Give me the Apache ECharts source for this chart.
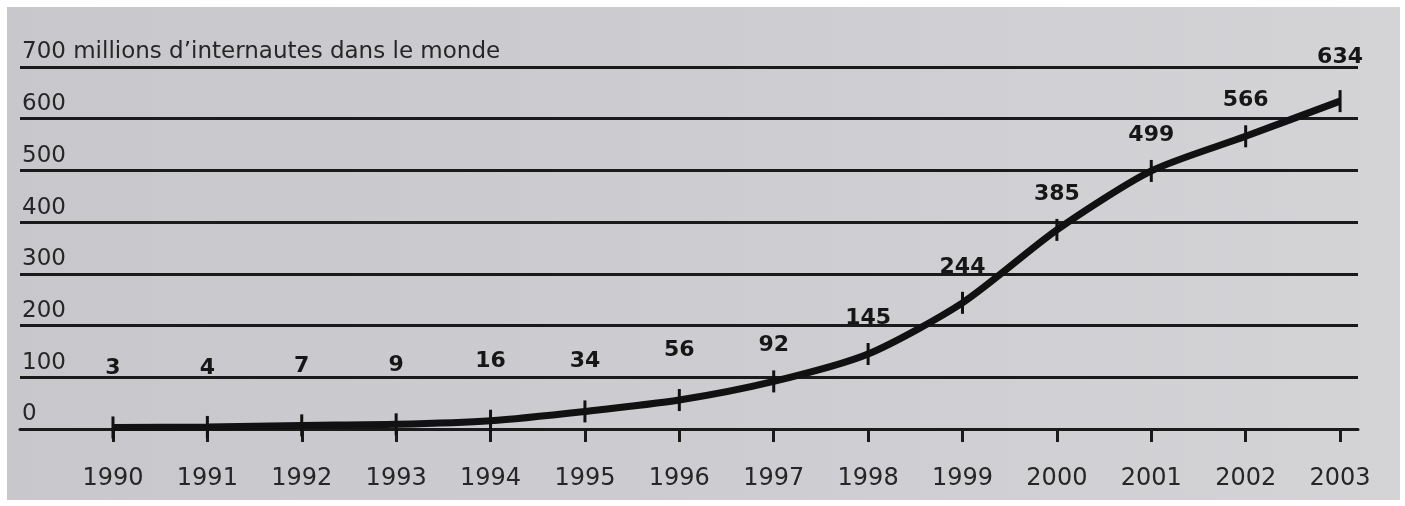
<!DOCTYPE html>
<html>
<head>
<meta charset="utf-8">
<script src="https://cdn.jsdelivr.net/npm/echarts@6/dist/echarts.min.js"></script>
<style>
  html, body { margin: 0; padding: 0; background: #ffffff; }
  #chart { width: 1405px; height: 506px; }
</style>
</head>
<body>
<div id="chart"></div>
<script>
// années et nombre d'internautes (millions)
const years = [1990, 1991, 1992, 1993, 1994, 1995, 1996, 1997, 1998, 1999, 2000, 2001, 2002, 2003];
const users = [3, 4, 7, 9, 16, 34, 56, 92, 145, 244, 385, 499, 566, 634];
const yTicks = [0, 100, 200, 300, 400, 500, 600, 700];
const topLabel = "700 millions d\u2019internautes dans le monde";

const chart = echarts.init(document.getElementById('chart'));

const ink = '#1a1a1a';
const textFont = 'DejaVu Sans';

// écart des étiquettes selon la hauteur du point
function labelGap(v) {
    if (v < 20) return 37;
    if (v < 60) return 28;
    if (v > 600) return 22;
    return 14;
}

const points = years.map((y, i) => ({
    value: [y, users[i]],
    label: { distance: labelGap(users[i]) }
}));

const option = {
    backgroundColor: '#ffffff',
    animation: false,
    graphic: [{
        type: 'rect',
        z: -10,
        shape: { x: 7, y: 7, width: 1393, height: 493 },
        style: {
            fill: new echarts.graphic.LinearGradient(0, 0, 1, 0, [
                { offset: 0, color: '#c8c8cc' },
                { offset: 0.5, color: '#cdcdd1' },
                { offset: 1, color: '#d4d4d7' }
            ])
        }
    }],
    grid: { left: 20, right: 47, top: 67, bottom: 77 },
    xAxis: {
        type: 'value',
        min: 1989.015,
        max: 2003.19,
        splitLine: { show: false },
        axisLine: { show: true, lineStyle: { color: ink, width: 3 } },
        axisTick: {
            show: true,
            customValues: years,
            length: 13,
            lineStyle: { color: ink, width: 3 }
        },
        axisLabel: {
            customValues: years,
            margin: 38,
            color: '#262626',
            fontFamily: textFont,
            fontSize: 24,
            formatter: v => String(v)
        }
    },
    yAxis: {
        type: 'value',
        min: 0,
        max: 700,
        interval: 100,
        axisLine: { show: false },
        axisTick: { show: false },
        splitLine: { lineStyle: { color: ink, width: 3 } },
        axisLabel: {
            inside: true,
            margin: 2,
            verticalAlign: 'bottom',
            align: 'left',
            color: '#262626',
            fontFamily: textFont,
            fontSize: 23,
            padding: [0, 0, 3, 0],
            formatter: v => v === 700 ? topLabel : (yTicks.indexOf(v) >= 0 ? String(v) : '')
        }
    },
    series: [{
        type: 'line',
        data: points,
        smooth: 0.25,
        lineStyle: { color: '#111111', width: 7 },
        symbol: 'rect',
        symbolSize: [3, 22],
        itemStyle: { color: '#111111' },
        label: {
            show: true,
            position: 'top',
            color: '#161616',
            fontFamily: textFont,
            fontWeight: 'bold',
            fontSize: 22,
            formatter: p => String(p.value[1])
        },
        z: 5
    }]
};
chart.setOption(option);
</script>
</body>
</html>
